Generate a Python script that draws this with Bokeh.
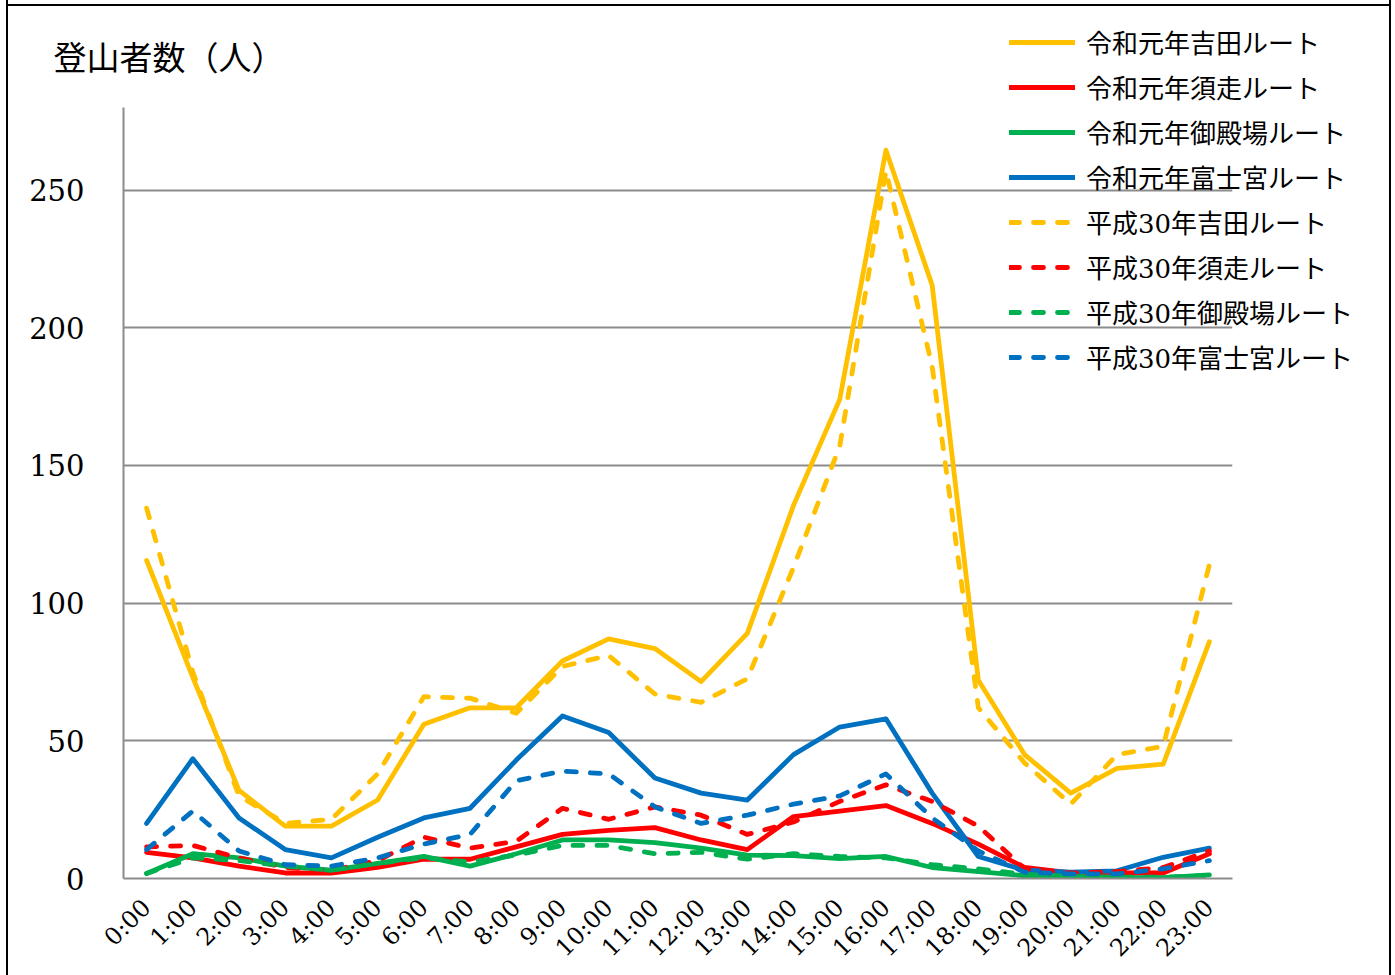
import math
from bokeh.plotting import figure
from bokeh.models import Legend, LegendItem, FixedTicker, Range1d, InlineStyleSheet
from bokeh.embed import file_html
from bokeh.resources import INLINE

hours = [f"{h}:00" for h in range(24)]

r1_yoshida = [115.5, 73, 32, 19, 19, 28.5, 56, 62, 62, 79, 87, 83.5, 71.5, 89,
              135.5, 174, 264.5, 215.5, 72, 45, 31, 40, 41.5, 86]
r1_subashiri = [9.5, 7.5, 4.5, 2, 2, 4, 7, 7, 11.5, 16, 17.5, 18.5, 14, 10.5,
                22.5, 24.5, 26.5, 20, 12.5, 4, 2, 2, 2, 9]
r1_gotemba = [1.8, 9, 7.5, 4.5, 3, 5.5, 8, 4.5, 9, 14, 14, 13, 11, 8.5,
              8.3, 7.2, 8, 4, 2.5, 1, 0.5, 0.3, 0.3, 1.3]
r1_fujinomiya = [20, 43.5, 22, 10.5, 7.5, 15, 22, 25.5, 43, 59, 53, 36.5, 31, 28.5,
                 45, 55, 58, 31, 8, 3, 2.3, 2.8, 7.7, 11]
h30_yoshida = [134.5, 75, 30, 20, 21.5, 38, 66, 65.5, 60, 77, 81, 67, 64, 72.5,
               113, 157, 257, 186, 62, 42, 27, 45, 48, 114]
h30_subashiri = [11.5, 12, 7.5, 4, 3, 6.5, 15, 11, 13.5, 25.5, 21.5, 26, 23, 16,
                 20.5, 28, 34, 28, 19, 3.5, 2, 2.5, 4, 10]
h30_gotemba = [1.8, 7.5, 6.5, 4.5, 3, 5.5, 7.5, 6, 8.5, 12, 12, 9, 9.5, 7,
               9, 8, 7.5, 5, 3.5, 1.5, 0.8, 0.5, 0.5, 1]
h30_fujinomiya = [10.5, 24.5, 10, 5, 4.5, 7.5, 12.5, 16, 35.5, 39, 38, 26, 20, 23,
                  27, 30, 38, 22, 10, 2.3, 1.7, 1.7, 3.5, 6.5]
y_ticks = [0, 50, 100, 150, 200, 250]

series = [
    ("令和元年吉田ルート", r1_yoshida, "#FFC000", "solid"),
    ("令和元年須走ルート", r1_subashiri, "#FF0000", "solid"),
    ("令和元年御殿場ルート", r1_gotemba, "#00B050", "solid"),
    ("令和元年富士宮ルート", r1_fujinomiya, "#0070C0", "solid"),
    ("平成30年吉田ルート", h30_yoshida, "#FFC000", "10 14"),
    ("平成30年須走ルート", h30_subashiri, "#FF0000", "10 14"),
    ("平成30年御殿場ルート", h30_gotemba, "#00B050", "10 14"),
    ("平成30年富士宮ルート", h30_fujinomiya, "#0070C0", "10 14"),
]

W, H = 1395, 975

p = figure(x_range=hours, y_range=Range1d(0, 280), width=W, height=H,
           output_backend="svg", toolbar_location=None,
           min_border_left=123, min_border_right=163, min_border_top=107,
           min_border_bottom=97, title="登山者数（人）")
p.border_fill_color = None
p.outline_line_color = None
p.stylesheets = [InlineStyleSheet(css=":host { box-shadow: inset 6px 0 0 #fff, inset 8px 0 0 #000, inset -4px 0 0 #fff, inset -6px 0 0 #000, inset 0 4px 0 #fff, inset 0 6px 0 #000; }")]

p.title.text_font = "Noto Sans CJK JP"
p.title.text_font_size = "33px"
p.title.text_font_style = "normal"
p.title.text_color = "#000000"
p.title.align = "left"
p.title.offset = -70
p.title.standoff = 56

p.xgrid.grid_line_color = None
p.ygrid.grid_line_color = "#8c8c8c"
p.ygrid.grid_line_width = 2
p.yaxis.ticker = FixedTicker(ticks=y_ticks)
for ax in (p.xaxis, p.yaxis):
    ax.axis_line_color = "#8c8c8c"
    ax.axis_line_width = 2
    ax.major_tick_line_color = None
    ax.minor_tick_line_color = None
    ax.major_tick_out = 0
    ax.major_tick_in = 0
    ax.minor_tick_out = 0
    ax.major_label_text_font = "DejaVu Serif"
    ax.major_label_text_color = "#000000"
p.yaxis.major_label_text_font_size = "29px"
p.yaxis.major_label_standoff = 39
p.xaxis.major_label_text_font_size = "24px"
p.xaxis.major_label_orientation = math.pi / 4
p.xaxis.major_label_standoff = 25

for label, vals, color, dash in series:
    p.line(hours, vals, line_color=color, line_width=4.8, line_dash=dash,
           line_cap="round", line_join="round")

# transparent overlay figure carrying the legend (the legend reaches beyond the plot frame)
leg = figure(width=W, height=H, output_backend="svg", toolbar_location=None,
             x_axis_location=None, y_axis_location=None,
             x_range=hours, y_range=Range1d(-2000, -1999),
             min_border=0, min_border_left=0, min_border_right=0,
             min_border_top=0, min_border_bottom=0)
leg.grid.visible = False
leg.outline_line_color = None
leg.background_fill_color = None
leg.border_fill_color = None
leg.styles = {"position": "absolute", "left": "0px", "top": "0px", "pointer-events": "none"}

items = []
for label, vals, color, dash in series:
    r = leg.line(hours, vals, line_color=color, line_width=4.8, line_dash=dash,
                 line_cap="round", line_join="round")
    items.append(LegendItem(label=label, renderers=[r]))

legend = Legend(items=items, location=(1009, 600), orientation="vertical",
                label_text_font="DejaVu Serif, Noto Sans CJK JP",
                label_text_font_size="26px", label_text_color="#000000",
                glyph_width=66, glyph_height=30, label_height=30,
                label_standoff=11, spacing=8, padding=0, margin=0,
                border_line_color=None, background_fill_alpha=0)
leg.add_layout(legend)

open("out.html", "w").write(file_html([p, leg], INLINE))
